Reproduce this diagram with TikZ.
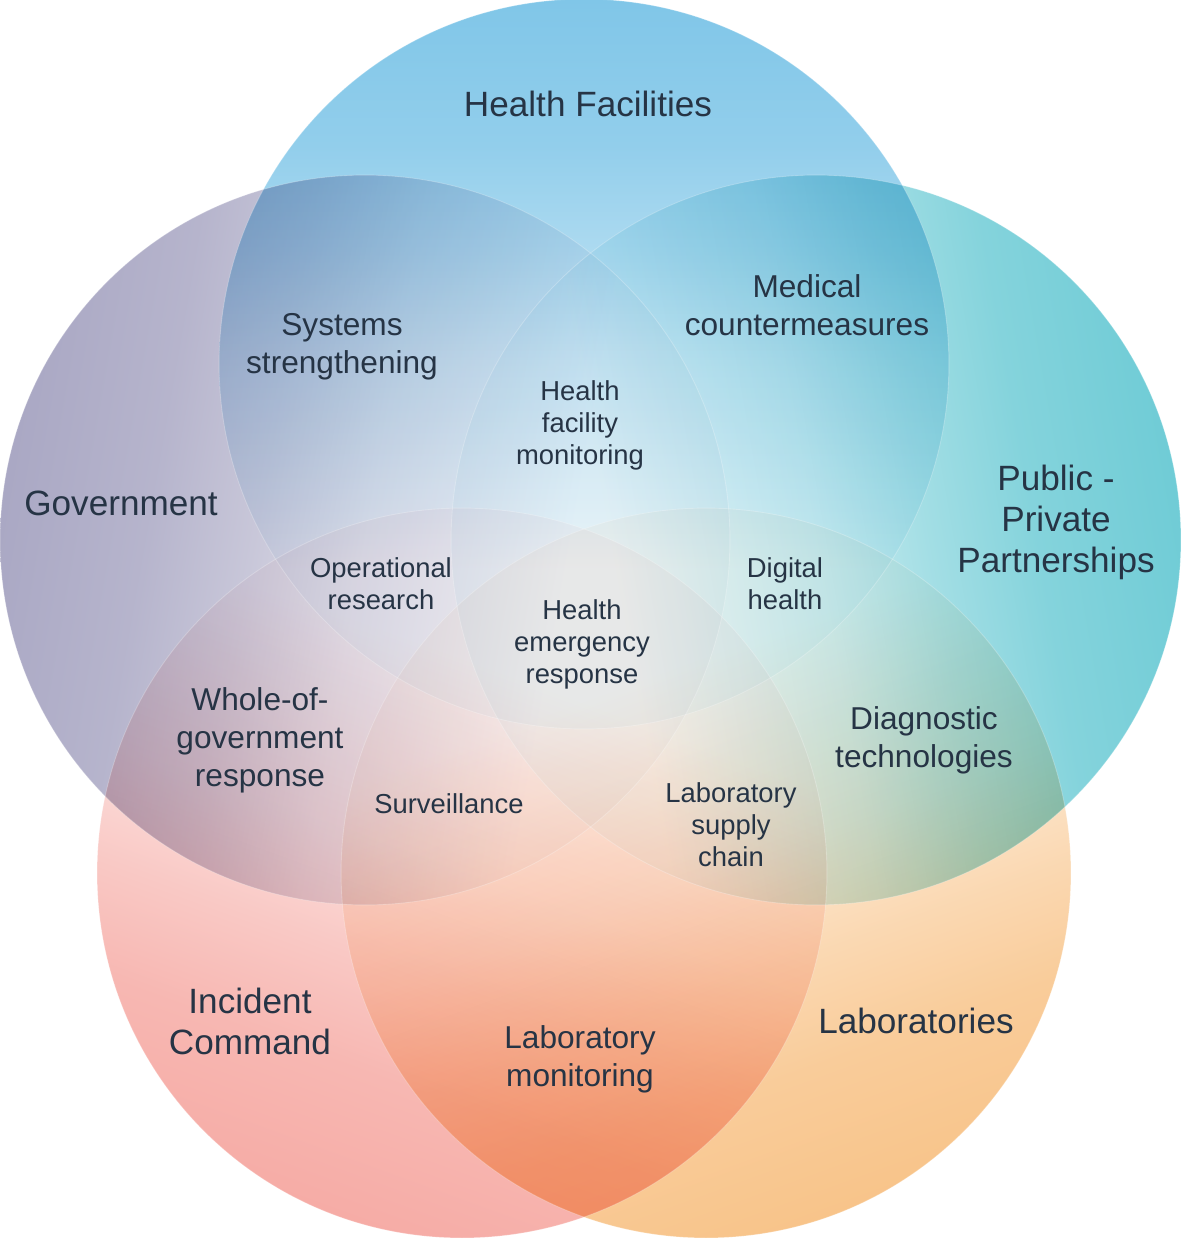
\documentclass[tikz,border=0pt]{standalone}
\usepackage{fontspec}
\setmainfont{Liberation Sans}
\definecolor{ink}{RGB}{38,52,69}
\definecolor{facblue}{RGB}{128,198,232}
\definecolor{govgray}{RGB}{170,168,196}
\definecolor{pppteal}{RGB}{112,204,214}
\definecolor{icpink}{RGB}{246,172,166}
\definecolor{labsand}{RGB}{248,196,138}
\definecolor{fadecol}{RGB}{128,128,128}
\definecolor{fadelow}{RGB}{255,255,255}
\pgfdeclareverticalshading[fadecol,fadelow]{setfade}{100bp}{color(0bp)=(fadelow); color(36bp)=(fadelow);
	color(50bp)=(fadecol!34!fadelow); color(57.5bp)=(fadecol!62!fadelow); color(65bp)=(fadecol!85!fadelow);
	color(75bp)=(fadecol); color(100bp)=(fadecol)}

\begin{document}
\begin{tikzpicture}[x=0.02cm, y=-0.02cm]
	\tikzstyle{setlabel} = [text=ink, align=center, font={\fontsize{20}{23.3}\selectfont}];
	\tikzstyle{pairlabel} = [text=ink, align=center, font={\fontsize{18}{21.6}\selectfont}];
	\tikzstyle{corelabel} = [text=ink, align=center, font={\fontsize{15.6}{18.2}\selectfont}];
	\tikzstyle{rim} = [white, opacity=0.25, line width=0.5pt];

	\useasboundingbox (0,0) rectangle (1181,1238);

	% the five sets, coloured on their outer side
	\foreach \cx/\cy/\col/\ang/\low [count=\ci] in {584/364/facblue/0/6, 365/540/govgray/80/6, 816/540/pppteal/-80/6, 462/873/icpink/160/8, 706/873/labsand/-160/8} {
		\coordinate (c\ci) at (\cx,\cy);
		\colorlet{fadecol}{\col}
		\colorlet{fadelow}{\col!\low}
		\shade[blend mode=multiply, shading=setfade, shading angle=\ang] (c\ci) circle[radius=7.3cm];
	}
	\foreach \ci in {1,...,5}
		\draw[rim] (c\ci) circle[radius=7.3cm];

	% set names
	\node[setlabel] (facilities) at (588,104) {Health Facilities};
	\node[setlabel] (government) at (121,503) {Government};
	\node[setlabel] (ppp) at (1056,522) {Public -\\Private\\Partnerships};
	\node[setlabel] (incident) at (250,1021) {Incident\\Command};
	\node[setlabel] (labs) at (916,1021) {Laboratories};

	% two-set overlaps
	\node[pairlabel] (systems) at (342,347) {Systems\\strengthening};
	\node[pairlabel] (medical) at (807,305) {Medical\\countermeasures};
	\node[pairlabel] (whole) at (260,740) {Whole-of-\\government\\response};
	\node[pairlabel] (diagnostic) at (924,740) {Diagnostic\\technologies};
	\node[pairlabel] (labmon) at (580,1059) {Laboratory\\monitoring};

	% inner overlaps
	\node[corelabel] (hfmon) at (580,425) {Health\\facility\\monitoring};
	\node[corelabel] (opres) at (381,584) {Operational\\research};
	\node[corelabel] (emergency) at (582,644) {Health\\emergency\\response};
	\node[corelabel] (digital) at (785,584) {Digital\\health};
	\node[corelabel] (surveillance) at (449,804) {Surveillance};
	\node[corelabel] (supply) at (731,825) {Laboratory\\supply\\chain};
\end{tikzpicture}
\end{document}
